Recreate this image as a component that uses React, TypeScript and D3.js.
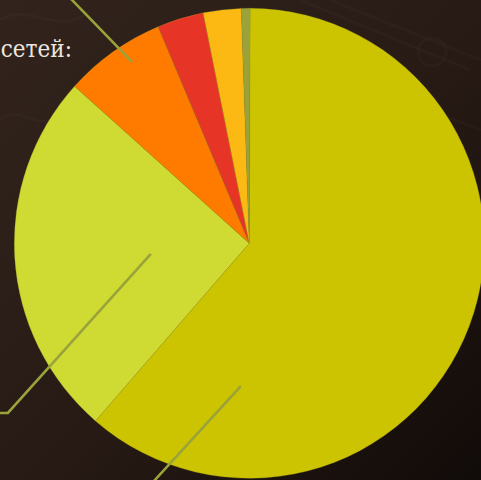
import { useEffect, useRef } from 'react';
import * as d3 from 'd3';

// Share of each slice, clockwise from 12 o'clock
const categories = ['a', 'b', 'c', 'd', 'e', 'f'];
const shares = [61.3, 25.3, 7.0, 3.2, 2.6, 0.6];
const sliceColors = ['#ccc400', '#cfdb33', '#ff7b00', '#e63526', '#fdb913', '#9aa33a'];

// Visible part of the heading (the rest is cropped)
const headingText = 'сетей:';

// Leader lines: polar anchor inside the slice, then offsets to the cropped labels
const leaders = [
  { slice: 2, angleDeg: -32.9, r: 216, path: [[-60, -62], [-100, -103]] },
  { slice: 1, angleDeg: -96.2, r: 99, path: [[-143, 159], [-160, 159]] },
  { slice: 0, angleDeg: 183.4, r: 143, path: [[-86, 94], [-110, 120]] },
];

const W = 481;
const H = 480;

const App = () => {
  const svgRef = useRef<SVGSVGElement>(null);

  useEffect(() => {
    if (!svgRef.current) return;
    const svg = d3.select(svgRef.current);
    svg.selectAll('*').remove();
    svg.attr('width', W).attr('height', H);

    // background
    const defs = svg.append('defs');
    const grad = defs.append('linearGradient')
      .attr('id', 'bg')
      .attr('x1', '0%').attr('y1', '0%')
      .attr('x2', '100%').attr('y2', '100%');
    grad.append('stop').attr('offset', '0%').attr('stop-color', '#32241d');
    grad.append('stop').attr('offset', '55%').attr('stop-color', '#271a14');
    grad.append('stop').attr('offset', '100%').attr('stop-color', '#110b09');
    svg.append('rect').attr('width', W).attr('height', H).attr('fill', 'url(#bg)');

    // faint decorative pattern in the background
    const deco = svg.append('g')
      .attr('fill', 'none')
      .attr('stroke', '#ffffff')
      .attr('stroke-opacity', 0.02)
      .attr('stroke-width', 3);
    deco.append('circle').attr('cx', 432).attr('cy', 52).attr('r', 14);
    deco.append('path').attr('d', 'M300,0 L470,70 M330,0 L481,60 M380,90 L481,130');
    deco.append('path').attr('d', 'M0,20 C30,0 60,40 90,10 M0,120 C20,100 40,140 70,110');

    const cx = 249.3;
    const cy = 243.3;
    const radius = 235;

    const pie = d3.pie<number>()
      .sort(null)
      .value(d => d)
      .startAngle(0.2 * Math.PI / 180)
      .endAngle(2 * Math.PI + 0.2 * Math.PI / 180);

    const arc = d3.arc<d3.PieArcDatum<number>>()
      .innerRadius(0)
      .outerRadius(radius);

    const g = svg.append('g').attr('transform', `translate(${cx},${cy})`);

    g.selectAll('path.slice')
      .data(pie(shares))
      .join('path')
      .attr('class', 'slice')
      .attr('d', arc)
      .attr('fill', (d, i) => sliceColors[i])
      .attr('stroke', '#a8a020')
      .attr('stroke-opacity', 0.5)
      .attr('stroke-width', 0.6)
      .attr('data-cat', (d, i) => categories[i]);

    // leader lines
    const line = d3.line();
    leaders.forEach(l => {
      const [sx, sy] = d3.pointRadial(l.angleDeg * Math.PI / 180, l.r);
      const pts: [number, number][] = [[sx, sy]];
      l.path.forEach(([dx, dy]) => pts.push([sx + dx, sy + dy]));
      g.append('path')
        .attr('d', line(pts))
        .attr('fill', 'none')
        .attr('stroke', '#9aa33a')
        .attr('stroke-width', 2.6);
    });

    // heading fragment
    svg.append('text')
      .attr('x', 72)
      .attr('y', 57)
      .attr('text-anchor', 'end')
      .attr('font-family', 'DejaVu Serif Condensed, DejaVu Serif')
      .attr('font-stretch', 'condensed')
      .attr('font-size', 24)
      .attr('fill', '#ece6df')
      .text(headingText);
  }, []);

  return (
    <div style={{ position: 'absolute', left: 0, top: 0, width: W, height: H, overflow: 'hidden' }}>
      <svg ref={svgRef} style={{ display: 'block' }}></svg>
    </div>
  );
};

export default App;
